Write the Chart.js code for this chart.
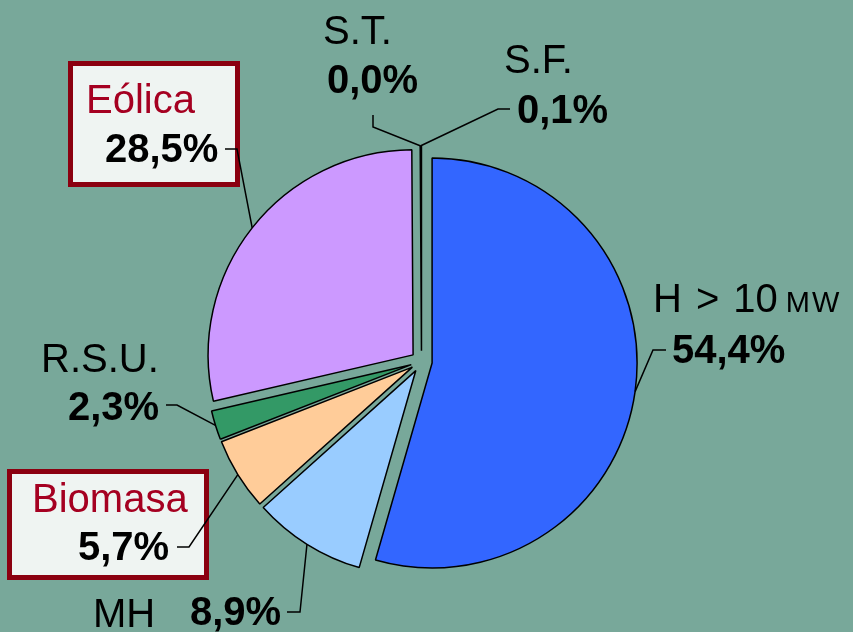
<!DOCTYPE html>
<html>
<head>
<meta charset="utf-8">
<script src="https://cdn.jsdelivr.net/npm/chart.js@4"></script>
<style>
  html, body { margin: 0; padding: 0; }
  body { width: 853px; height: 632px; background: #78a89a; position: relative; overflow: hidden;
         font-family: "Liberation Sans", Arial, sans-serif; }
  #pie { position: absolute; left: 0; top: 0; z-index: 2; }
  .box { position: absolute; box-sizing: border-box; border: 5px solid #8b0010; background: #eff4f2; z-index: 1; }
  .lbl { position: absolute; font-size: 40px; line-height: 40px; white-space: nowrap; color: #000; z-index: 3; }
  .val { font-weight: bold; }
  .red { color: #a50021; }
  .mw { font-size: 29px; letter-spacing: 2px; margin-left: 8px; }
  .gap { margin-left: 14px; }
</style>
</head>
<body>
<div class="box" style="left:68px;top:61px;width:172px;height:126px"></div>
<div class="box" style="left:7px;top:469px;width:202px;height:111px"></div>
<canvas id="pie" width="853" height="632"></canvas>
<div id="labels"></div>
<script>
const sources = ['H > 10MW', 'MH', 'Biomasa', 'R.S.U.', 'Eólica', 'S.T.', 'S.F.'];
const shares = [54.4, 8.9, 5.7, 2.3, 28.5, 0.0, 0.1];
const shareText = ['54,4%', '8,9%', '5,7%', '2,3%', '28,5%', '0,0%', '0,1%'];
const sliceColors = ['#3366ff', '#99ccff', '#ffcc99', '#339966', '#cc99ff', '#ffffff', '#ffffff'];

// label placement: name / value left edge + baseline, leader elbow + end
const layout = [
  { name: [653, 312], val: [672, 363], elbow: [653, 350], end: [666, 350] },
  { name: [93, 627], val: [190, 625], elbow: [300, 612], end: [287, 612] },
  { name: [32, 512], val: [78, 560], elbow: [189, 547], end: [177, 547], red: true },
  { name: [41, 372], val: [68, 420], elbow: [177, 405], end: [166, 405] },
  { name: [86, 113], val: [105, 162], elbow: [237, 149], end: [225, 149], red: true },
  { name: [323, 44], val: [327, 93], elbow: [373, 127], end: [373, 115] },
  { name: [504, 73], val: [517, 123], elbow: [498, 109], end: [510, 109] }
];

const GAP = 10.7;
const RADIUS = 205;

const labelsDiv = document.getElementById('labels');
sources.forEach((s, i) => {
  const L = layout[i];
  const n = document.createElement('div');
  n.className = 'lbl' + (L.red ? ' red' : '');
  n.style.left = L.name[0] + 'px';
  n.style.top = (L.name[1] - 34) + 'px';
  if (s === 'H > 10MW') {
    n.innerHTML = 'H<span class="gap">&gt;</span><span class="gap">10</span><span class="mw">MW</span>';
  } else {
    n.textContent = s;
  }
  labelsDiv.appendChild(n);
  const v = document.createElement('div');
  v.className = 'lbl val';
  v.style.left = L.val[0] + 'px';
  v.style.top = (L.val[1] - 34) + 'px';
  v.textContent = shareText[i];
  labelsDiv.appendChild(v);
});

// pull every slice out along its middle angle
const explode = {
  id: 'explode',
  afterDatasetUpdate(chart) {
    chart.getDatasetMeta(0).data.forEach(arc => {
      const mid = (arc.startAngle + arc.endAngle) / 2;
      arc.x += Math.cos(mid) * GAP;
      arc.y += Math.sin(mid) * GAP;
    });
  }
};

const leaders = {
  id: 'leaders',
  afterDatasetsDraw(chart) {
    const ctx = chart.ctx;
    ctx.save();
    ctx.strokeStyle = '#000';
    ctx.lineWidth = 1.5;
    chart.getDatasetMeta(0).data.forEach((arc, i) => {
      const L = layout[i];
      const mid = (arc.startAngle + arc.endAngle) / 2;
      const px = arc.x + Math.cos(mid) * arc.outerRadius;
      const py = arc.y + Math.sin(mid) * arc.outerRadius;
      ctx.beginPath();
      ctx.moveTo(px, py);
      ctx.lineTo(L.elbow[0], L.elbow[1]);
      ctx.lineTo(L.end[0], L.end[1]);
      ctx.stroke();
    });
    ctx.restore();
  }
};

new Chart(document.getElementById('pie'), {
  type: 'pie',
  data: {
    labels: sources,
    datasets: [{
      data: shares,
      backgroundColor: sliceColors,
      borderColor: '#000',
      borderWidth: 1.5
    }]
  },
  options: {
    responsive: false,
    animation: false,
    radius: RADIUS,
    layout: { padding: { left: 0, right: 10, top: 91, bottom: 0 } },
    events: [],
    plugins: { legend: { display: false }, tooltip: { enabled: false } }
  },
  plugins: [explode, leaders]
});
</script>
</body>
</html>
